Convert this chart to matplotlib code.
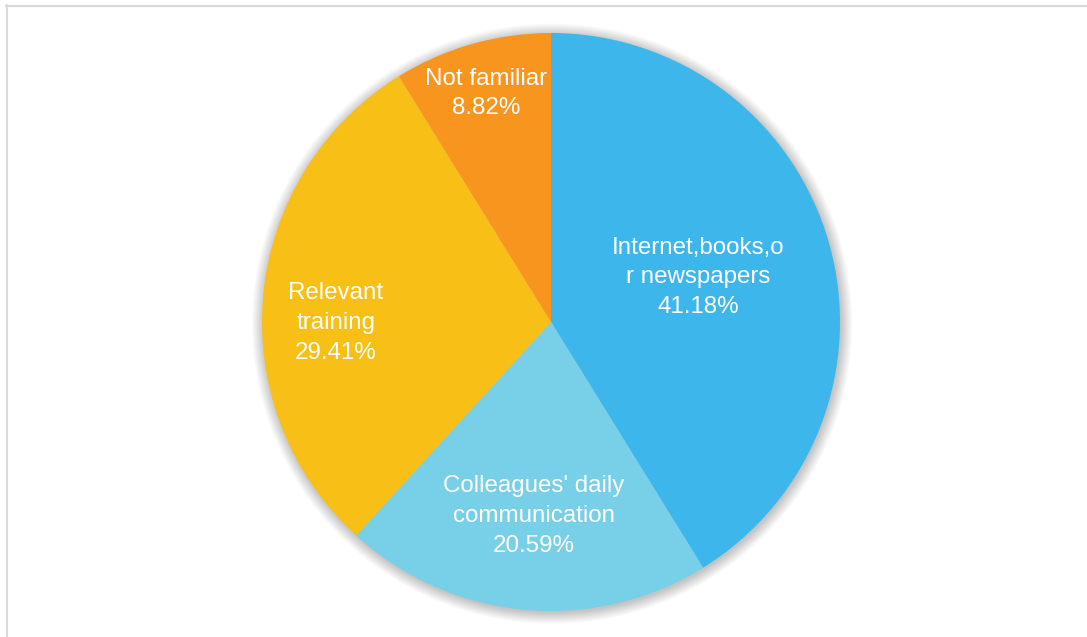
import matplotlib
matplotlib.use("Agg")
import matplotlib.pyplot as plt
import numpy as np
from matplotlib.patches import Circle
from matplotlib.lines import Line2D

categories = ["Internet,books,o\nr newspapers", "Colleagues' daily\ncommunication", "Relevant\ntraining", "Not familiar"]
values = [41.18, 20.59, 29.41, 8.82]
pct_labels = ["41.18%", "20.59%", "29.41%", "8.82%"]
colors = ["#3DB6EB", "#78CFE8", "#F8BF16", "#F7951E"]
# label placement: radial distance and angle tweak (degrees) from wedge mid-angle
label_dist = [0.532, 0.674, 0.744, 0.822]
label_ang_shift = [1.0, 0.3, 5.5, 0.0]

plt.rcParams['font.family'] = ['Liberation Sans', 'DejaVu Sans']

W, H = 1087, 637
fig = plt.figure(figsize=(W / 100, H / 100), dpi=100)
cx, cy, R = 551, 322, 289
ax = fig.add_axes([(cx - R) / W, (H - cy - R) / H, 2 * R / W, 2 * R / H])
ax.set_xlim(-1, 1)
ax.set_ylim(-1, 1)
ax.set_aspect('equal')
ax.axis('off')

# soft shadow
for i in range(12):
    ax.add_patch(Circle((0.004, -0.006), 1.0 + i * 0.0035, color='black',
                        alpha=0.02, lw=0, zorder=0, clip_on=False))

wedges, _ = ax.pie(values, colors=colors, startangle=90, counterclock=False,
                   radius=1.0, wedgeprops=dict(linewidth=0), frame=False)
ax.set_xlim(-1, 1)
ax.set_ylim(-1, 1)

for w, cat, pct, d, s in zip(wedges, categories, pct_labels, label_dist, label_ang_shift):
    ang = np.deg2rad((w.theta1 + w.theta2) / 2 + s)
    ax.text(d * np.cos(ang), d * np.sin(ang), cat + "\n" + pct, ha='center', va='center',
            color='white', fontsize=17.4, linespacing=1.46, zorder=5)

# frame border lines (top and left)
fig.add_artist(Line2D([6.5 / W, 6.5 / W], [0, 1 - 5 / H], transform=fig.transFigure,
                      color='#D9D9D9', lw=1.5))
fig.add_artist(Line2D([6 / W, 1], [1 - 5.5 / H, 1 - 5.5 / H], transform=fig.transFigure,
                      color='#D9D9D9', lw=1.5))

fig.savefig("out.png", dpi=100)
